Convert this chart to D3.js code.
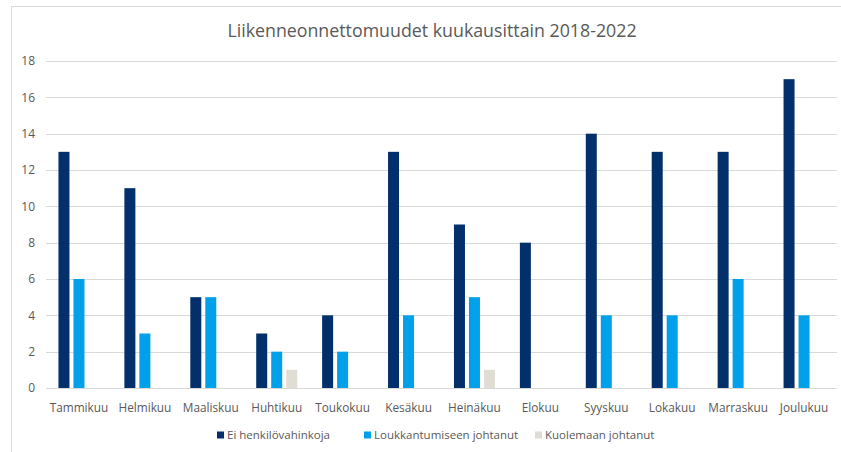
<!DOCTYPE html>
<html lang="fi">
<head>
<meta charset="utf-8"/>
<title>Liikenneonnettomuudet</title>
<script src="https://cdn.jsdelivr.net/npm/d3@7"></script>
<style>
  body { margin: 0; background: #fff; }
  text { font-family: "Open Sans", "Noto Sans", sans-serif; fill: #595959; }
</style>
</head>
<body>
<div id="chart"></div>
<script>
const months = ["Tammikuu", "Helmikuu", "Maaliskuu", "Huhtikuu", "Toukokuu", "Kesäkuu",
                "Heinäkuu", "Elokuu", "Syyskuu", "Lokakuu", "Marraskuu", "Joulukuu"];
const seriesNames = ["Ei henkilövahinkoja", "Loukkantumiseen johtanut", "Kuolemaan johtanut"];
const eiHenkilo = [13, 11, 5, 3, 4, 13, 9, 8, 14, 13, 13, 17];
const loukkaantuminen = [6, 3, 5, 2, 2, 4, 5, 0, 4, 4, 6, 4];
const kuolema = [0, 0, 0, 1, 0, 0, 1, 0, 0, 0, 0, 0];
const colors = ["#03306b", "#00a0ea", "#e0ded4"];
const yTicks = [0, 2, 4, 6, 8, 10, 12, 14, 16, 18];

const values = [eiHenkilo, loukkaantuminen, kuolema];
const data = months.map((m, i) => ({
  month: m,
  vals: seriesNames.map((s, k) => ({ series: s, value: values[k][i] }))
}));

const W = 841, H = 452;
const svg = d3.select("#chart").append("svg").attr("width", W).attr("height", H);

// chart area frame
svg.append("rect")
   .attr("x", 11.5).attr("y", 6.5)
   .attr("width", W + 10).attr("height", H + 10)
   .attr("fill", "none").attr("stroke", "#d9d9d9");

const x = d3.scaleBand().domain(months).range([46, 837]);
const xs = d3.scaleBand().domain(seriesNames).range([-20.5, 20.5]).paddingInner(4 / 15);
const y = d3.scaleLinear().domain([0, 18]).range([388, 61]);

// gridlines + y labels
svg.append("g").selectAll("line").data(yTicks).join("line")
   .attr("x1", 46).attr("x2", 837)
   .attr("y1", d => Math.round(y(d)) + 0.5).attr("y2", d => Math.round(y(d)) + 0.5)
   .attr("stroke", "#d9d9d9").attr("stroke-width", 1);

svg.append("g").selectAll("text").data(yTicks).join("text")
   .attr("x", 35).attr("y", d => y(d)).attr("dy", "0.35em")
   .attr("text-anchor", "end").attr("font-size", 12)
   .text(d => d);

// bars
svg.append("g").selectAll("g").data(data).join("g")
   .attr("transform", d => `translate(${x(d.month) + x.bandwidth() / 2},0)`)
   .selectAll("rect").data(d => d.vals.filter(v => v.value > 0)).join("rect")
   .attr("x", d => xs(d.series))
   .attr("width", xs.bandwidth())
   .attr("y", d => y(d.value))
   .attr("height", d => y(0) - y(d.value))
   .attr("fill", d => colors[seriesNames.indexOf(d.series)]);

// x labels
svg.append("g").selectAll("text").data(months).join("text")
   .attr("x", d => x(d) + x.bandwidth() / 2).attr("y", 408).attr("dy", "0.35em")
   .attr("text-anchor", "middle").attr("font-size", 11.8)
   .text(d => d);

// title
svg.append("text")
   .attr("x", 432).attr("y", 37)
   .attr("text-anchor", "middle").attr("font-size", 17.8)
   .text("Liikenneonnettomuudet kuukausittain 2018-2022");

// legend
const legendX = [217, 364, 535];
const legend = svg.append("g").selectAll("g").data(seriesNames).join("g")
   .attr("transform", (d, i) => `translate(${legendX[i]},435)`);
legend.append("rect").attr("x", 0).attr("y", -3.5).attr("width", 7).attr("height", 7)
   .attr("fill", (d, i) => colors[i]);
legend.append("text").attr("x", 10).attr("y", 0).attr("dy", "0.35em")
   .attr("font-size", 11.5).text(d => d);
</script>
</body>
</html>
